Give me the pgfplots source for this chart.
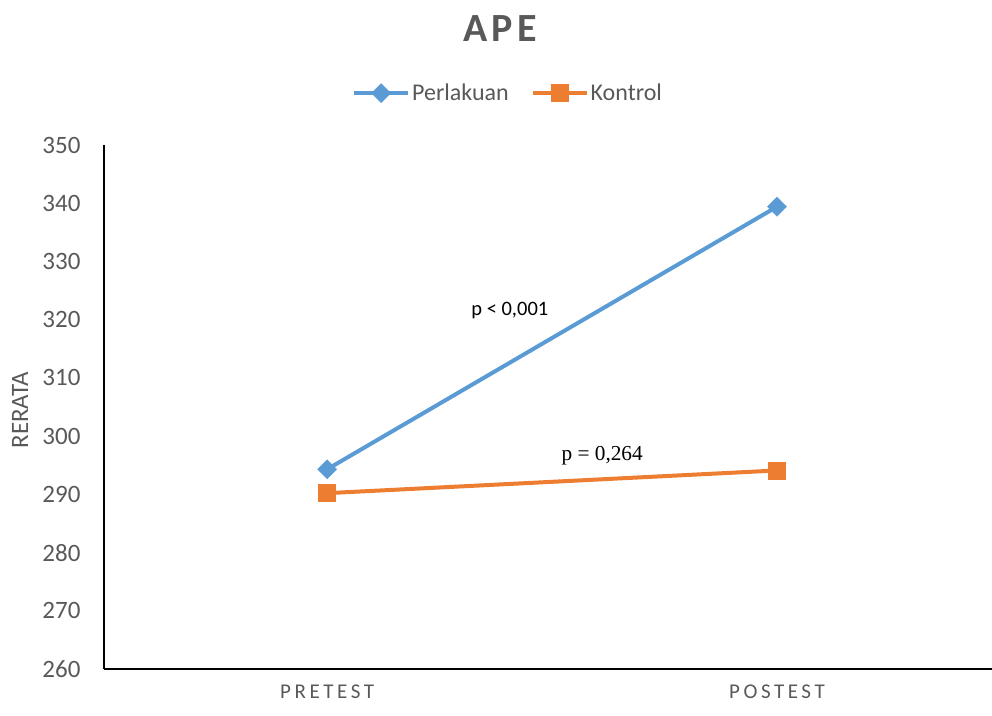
\documentclass[border=0pt]{standalone}
\usepackage{pgfplots}
\pgfplotsset{compat=1.18}
\usepackage{fontspec}
\setmainfont{Carlito}
\newfontfamily\timesfont{Liberation Serif}
\definecolor{cblue}{HTML}{5B9BD5}
\definecolor{corange}{HTML}{ED7D31}
\definecolor{tgray}{HTML}{595959}
\begin{document}
\begin{tikzpicture}
\begin{axis}[name=ax, scale only axis, width=888pt, height=524pt,
  xmin=-0.496, xmax=1.478, ymin=260, ymax=350,
  ytick={260,270,...,350},
  xtick={0,1}, xticklabels={PRETEST,POSTEST},
  axis x line*=bottom, axis y line*=left,
  axis line style={black, line width=2pt, -},
  major tick length=0pt,
  /pgf/number format/assume math mode=true,
  yticklabel style={font=\fontsize{25}{28}\selectfont, text=tgray, xshift=-20pt},
  xticklabel style={font=\fontsize{21}{24}\selectfont\addfontfeature{LetterSpace=17}, text=tgray, yshift=-12pt},
  ylabel={RERATA},
  ylabel style={font=\fontsize{25}{28}\selectfont, text=tgray, at={(axis description cs:-0.0946,0.494)}, anchor=center},
  clip=false,
  legend style={at={(0.455,1.099)}, anchor=center, draw=none, legend columns=2,
    font=\fontsize{24}{28}\selectfont, text=tgray,
    nodes={inner xsep=2pt},
    /tikz/every even column/.append style={column sep=20pt}},
  legend image code/.code={\draw[#1, mark repeat=2, mark phase=2] plot coordinates {(0pt,0pt) (27pt,0pt) (54pt,0pt)};},
]
\addplot[cblue, line width=4pt, mark=square*, mark size=6.7pt, mark options={rotate=45, solid, line width=0.5pt, fill=cblue}]
  coordinates {(0,294.3) (1,339.4)};
\addlegendentry{Perlakuan}
\addplot[corange, line width=4pt, mark=square*, mark size=8.5pt, mark options={solid, line width=0.5pt, fill=corange}]
  coordinates {(0,290.2) (1,294.1)};
\addlegendentry{Kontrol}
\node[font=\fontsize{40}{44}\selectfont\bfseries\addfontfeature{LetterSpace=10}, text=tgray] at (rel axis cs:0.446,1.222) {APE};
\node[font=\fontsize{20.5}{24}\selectfont, text=black] at (rel axis cs:0.457,0.685) {p < 0,001};
\node[font=\timesfont\fontsize{21.3}{24}\selectfont, text=black] at (rel axis cs:0.561,0.408) {p = 0,264};
\end{axis}
\pgfresetboundingbox
\path[use as bounding box] ([xshift=-104pt,yshift=-47pt]ax.south west) rectangle ([yshift=145pt]ax.north east);
\end{tikzpicture}
\end{document}
